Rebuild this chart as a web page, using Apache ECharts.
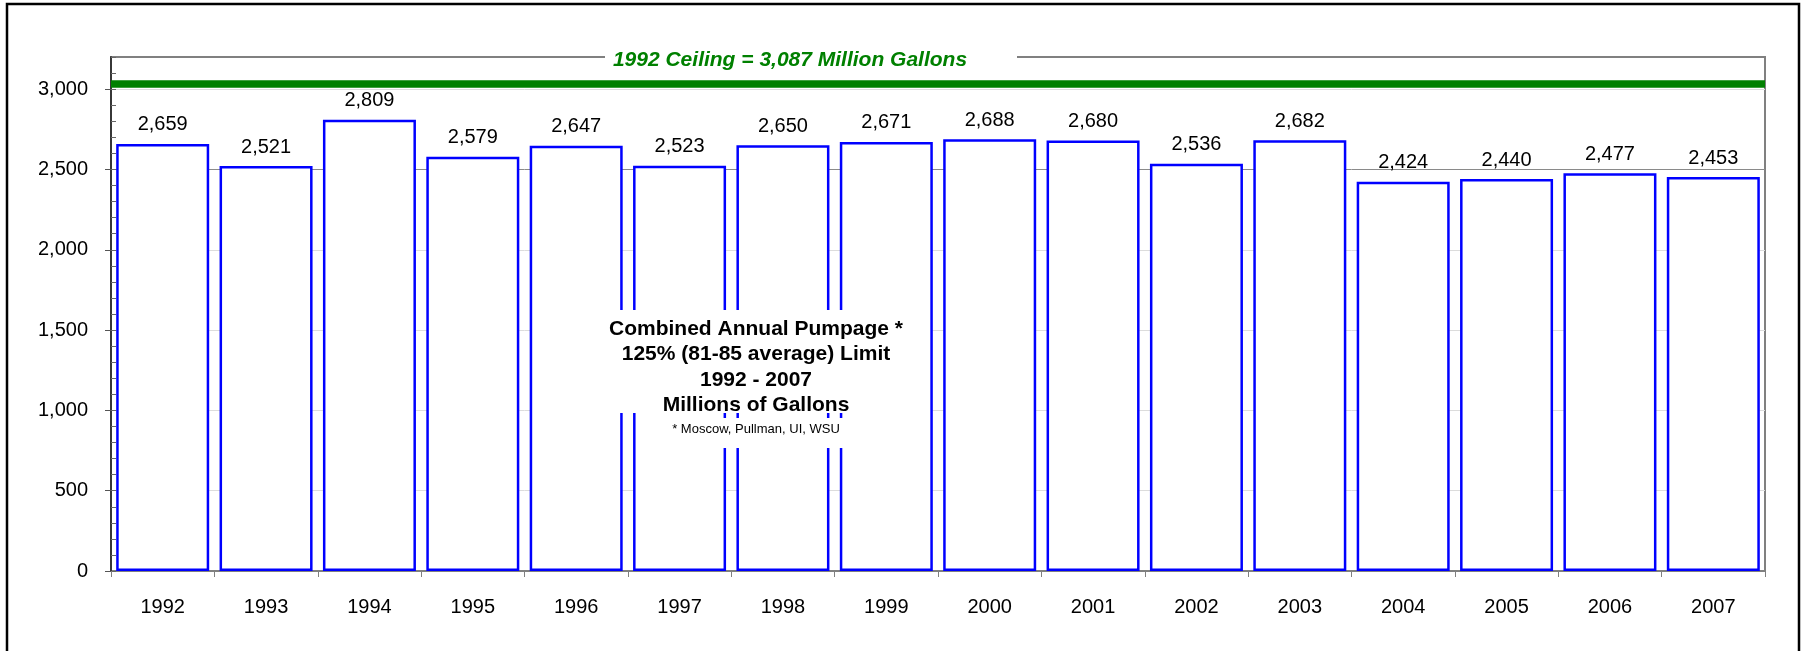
<!DOCTYPE html>
<html>
<head>
<meta charset="utf-8">
<script src="https://cdn.jsdelivr.net/npm/echarts@6/dist/echarts.min.js"></script>
<style>
html,body{margin:0;padding:0;background:#fff;}
#chart{width:1808px;height:651px;}
</style>
</head>
<body>
<div id="chart"></div>
<script>
const years = ['1992','1993','1994','1995','1996','1997','1998','1999','2000','2001','2002','2003','2004','2005','2006','2007'];
const pumpage = [2659, 2521, 2809, 2579, 2647, 2523, 2650, 2671, 2688, 2680, 2536, 2682, 2424, 2440, 2477, 2453];
const ceilingLineLevel = 3035;
const yMin = 0;
const yMax = 3200;
const yMinorStep = 100;
const yLabelValues = [0, 500, 1000, 1500, 2000, 2500, 3000];
const ceilingText = '1992 Ceiling = 3,087 Million Gallons';
const titleLines = ['Combined Annual Pumpage *', '125% (81-85 average) Limit', '1992 - 2007', 'Millions of Gallons'];
const footnote = '* Moscow, Pullman, UI, WSU';

const FONT = 'Arial, "Liberation Sans", sans-serif';
function fmt(v){ return String(v).replace(/\B(?=(\d{3})+(?!\d))/g, ','); }

const chart = echarts.init(document.getElementById('chart'), null, {renderer:'canvas'});

const centerX = 756;
const graphicEls = [
  {type:'rect', z:100, shape:{x:7, y:4, width:1792, height:700}, style:{fill:'none', stroke:'#000', lineWidth:2.5}},
  {type:'rect', z:100, shape:{x:605, y:45, width:412, height:30}, style:{fill:'#fff'}},
  {type:'text', z:101, x:790, y:60, style:{text:ceilingText, fill:'#008000', font:'italic bold 21px ' + FONT, align:'center', verticalAlign:'middle'}},
  {type:'rect', z:100, shape:{x:600, y:310, width:312, height:103}, style:{fill:'#fff'}},
  {type:'rect', z:100, shape:{x:676, y:418, width:177, height:30}, style:{fill:'#fff'}},
  {type:'text', z:101, x:centerX, y:429, style:{text:footnote, fill:'#000', font:'13px ' + FONT, align:'center', verticalAlign:'middle'}}
];
titleLines.forEach((t, i) => {
  graphicEls.push({type:'text', z:101, x:centerX, y:329 + i*25.4, style:{text:t, fill:'#000', font:'bold 21px ' + FONT, align:'center', verticalAlign:'middle'}});
});

const option = {
  animation:false,
  backgroundColor:'#fff',
  grid:{left:111, top:57, width:1654, height:514, show:true, borderColor:'#808080', borderWidth:2, backgroundColor:'transparent'},
  xAxis:{
    type:'category', data:years,
    axisLine:{show:true, lineStyle:{color:'#808080', width:1}},
    axisTick:{show:true, alignWithLabel:false, length:6, lineStyle:{color:'#808080'}},
    axisLabel:{color:'#000', fontSize:20, fontFamily:FONT, margin:26},
    splitLine:{show:false}
  },
  yAxis:[{
    type:'value', position:'left', min:yMin, max:yMax, interval:yMinorStep,
    axisLine:{show:true, lineStyle:{color:'#333', width:1.5}},
    axisTick:{show:true, inside:false, length:6, lineStyle:{color:'#555'}, customValues:yLabelValues},
    axisLabel:{color:'#000', fontSize:20, fontFamily:FONT, margin:23, customValues:yLabelValues,
      formatter:function(v){ return (v % 500 === 0) ? fmt(v) : ''; }},
    splitLine:{show:true, lineStyle:{color:['#8a8a8a','#dcdcdc','#dcdcdc','#dcdcdc','#dcdcdc'], width:1}}
  },{
    type:'value', position:'left', min:yMin, max:yMax, interval:yMinorStep,
    axisLine:{show:true, lineStyle:{color:'#333', width:1.5}},
    axisTick:{show:true, inside:true, length:5, lineStyle:{color:'#666'}},
    axisLabel:{show:false},
    splitLine:{show:false}
  }],
  series:[{
    type:'bar', data:pumpage, xAxisIndex:0, yAxisIndex:0,
    barWidth:93,
    itemStyle:{color:'#fff', borderColor:'#0000ff', borderWidth:2.5},
    label:{show:true, position:'top', distance:9, color:'#000', fontSize:20, fontFamily:FONT,
      formatter:function(p){ return fmt(p.value); }},
    markLine:{
      silent:true, symbol:'none',
      label:{show:false},
      lineStyle:{color:'#008000', width:7.5, type:'solid'},
      data:[{yAxis:ceilingLineLevel}]
    }
  }],
  graphic:graphicEls
};
chart.setOption(option);
</script>
</body>
</html>
